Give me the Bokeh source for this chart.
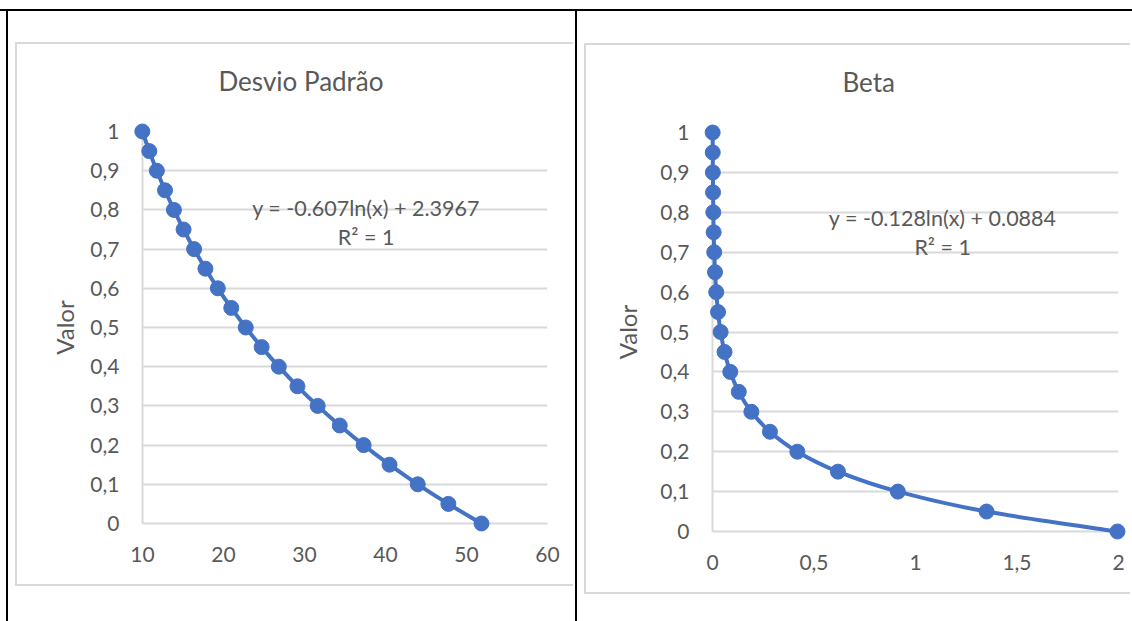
from bokeh.plotting import figure
from bokeh.models import Range1d, FixedTicker, Label, Spacer
from bokeh.layouts import row, column
from bokeh.embed import file_html
from bokeh.resources import INLINE

# ---------------- data ----------------
Y_VALUES = [1.00, 0.95, 0.90, 0.85, 0.80, 0.75, 0.70, 0.65, 0.60, 0.55, 0.50,
            0.45, 0.40, 0.35, 0.30, 0.25, 0.20, 0.15, 0.10, 0.05, 0.00]
DP_X = [9.98, 10.84, 11.77, 12.78, 13.88, 15.07, 16.37, 17.77, 19.30, 20.96, 22.75,
        24.71, 26.83, 29.13, 31.63, 34.35, 37.30, 40.50, 43.98, 47.76, 51.85]
BETA_X = [0.0008, 0.0012, 0.0018, 0.0026, 0.0039, 0.0057, 0.0084, 0.0124, 0.0184, 0.0272, 0.0401,
          0.0593, 0.0876, 0.1295, 0.1915, 0.283, 0.418, 0.618, 0.913, 1.350, 1.995]

Y_TICKS = [0, 0.1, 0.2, 0.3, 0.4, 0.5, 0.6, 0.7, 0.8, 0.9, 1]
Y_TICK_LABELS = ["0", "0,1", "0,2", "0,3", "0,4", "0,5", "0,6", "0,7", "0,8", "0,9", "1"]
DP_X_TICKS = [10, 20, 30, 40, 50, 60]
DP_X_TICK_LABELS = ["10", "20", "30", "40", "50", "60"]
BETA_X_TICKS = [0, 0.5, 1, 1.5, 2]
BETA_X_TICK_LABELS = ["0", "0,5", "1", "1,5", "2"]

TITLES = ["Desvio Padrão", "Beta"]
Y_LABEL = "Valor"
EQUATIONS = ["y = -0.607ln(x) + 2.3967", "y = -0.128ln(x) + 0.0884"]
R2_TEXT = "R² = 1"

BLUE = "#4472C4"
TXT = "#595959"
GRID = "#D9D9D9"
FONT = "Lato"


def smooth_segments(xs, ys):
    n = len(xs)
    d = dict(x0=[], y0=[], x1=[], y1=[], cx0=[], cy0=[], cx1=[], cy1=[])
    for i in range(n - 1):
        ip, inn = max(i - 1, 0), min(i + 2, n - 1)
        d["x0"].append(xs[i]); d["y0"].append(ys[i])
        d["x1"].append(xs[i + 1]); d["y1"].append(ys[i + 1])
        d["cx0"].append(xs[i] + (xs[i + 1] - xs[ip]) / 6.0)
        d["cy0"].append(ys[i] + (ys[i + 1] - ys[ip]) / 6.0)
        d["cx1"].append(xs[i + 1] - (xs[inn] - xs[i]) / 6.0)
        d["cy1"].append(ys[i + 1] - (ys[inn] - ys[i]) / 6.0)
    return d


def make_chart(xs, ys, xr, x_ticks, x_labels, title, eq, geo):
    p = figure(width=geo["w"], height=geo["h"],
               x_range=Range1d(*xr), y_range=Range1d(0, 1),
               output_backend="svg", toolbar_location=None,
               min_border_left=geo["bl"], min_border_right=geo["br"],
               min_border_top=geo["bt"], min_border_bottom=geo["bb"],
               background_fill_color="white", border_fill_color="white",
               outline_line_color=None)
    p.title.text = title
    p.title.align = "left"
    p.title.offset = geo["toff"]
    p.title.text_font = FONT
    p.title.text_font_size = "26px"
    p.title.text_font_style = "normal"
    p.title.text_color = TXT
    p.title.vertical_align = "bottom"
    p.title.standoff = 0
    p.title.padding = dict(left=0, right=0, top=0, bottom=35)

    p.xgrid.visible = False
    p.ygrid.ticker = FixedTicker(ticks=Y_TICKS)
    p.ygrid.grid_line_color = GRID
    p.ygrid.grid_line_width = 2

    xax = p.below[0]
    yax = p.left[0]
    for ax in (xax, yax):
        ax.axis_line_color = GRID
        ax.axis_line_width = 2
        ax.major_tick_line_color = None
        ax.minor_tick_line_color = None
        ax.major_tick_out = 0
        ax.major_tick_in = 0
        ax.minor_tick_out = 0
        ax.minor_tick_in = 0
        ax.major_label_text_font = FONT
        ax.major_label_text_font_size = "21px"
        ax.major_label_text_color = TXT

    xax.ticker = FixedTicker(ticks=x_ticks)
    xax.major_label_overrides = {t: l for t, l in zip(x_ticks, x_labels)}
    xax.major_label_standoff = geo["xls"]
    yax.ticker = FixedTicker(ticks=Y_TICKS)
    yax.major_label_overrides = {t: l for t, l in zip(Y_TICKS, Y_TICK_LABELS)}
    yax.major_label_standoff = 23
    yax.axis_label = Y_LABEL
    yax.axis_label_text_font = FONT
    yax.axis_label_text_font_size = "24px"
    yax.axis_label_text_font_style = "normal"
    yax.axis_label_text_color = TXT
    yax.axis_label_standoff = geo["als"]

    seg = smooth_segments(xs, ys)
    p.bezier(x0=seg["x0"], y0=seg["y0"], x1=seg["x1"], y1=seg["y1"],
             cx0=seg["cx0"], cy0=seg["cy0"], cx1=seg["cx1"], cy1=seg["cy1"],
             line_color=BLUE, line_width=4, level="overlay")
    p.scatter(xs, ys, marker="circle", size=15, fill_color=BLUE, line_color=BLUE,
              line_width=1, level="overlay")

    p.add_layout(Label(x=geo["ex"], y=geo["ey1"], text=eq, text_align="center",
                       text_baseline="middle", text_font=FONT, text_font_size="21.5px",
                       text_color=TXT))
    p.add_layout(Label(x=geo["ex"], y=geo["ey2"], text=R2_TEXT, text_align="center",
                       text_baseline="middle", text_font=FONT, text_font_size="21.5px",
                       text_color=TXT))
    return p


geo1 = dict(w=558, h=540, bl=125, br=28, bt=87, bb=61, xls=23, als=8, toff=76,
            ex=37.6, ey1=0.806, ey2=0.732)
geo2 = dict(w=546, h=547, bl=126, br=14, bt=87, bb=60, xls=23, als=15, toff=130,
            ex=1.134, ey1=0.786, ey2=0.712)

p1 = make_chart(DP_X, Y_VALUES, (10, 60), DP_X_TICKS, DP_X_TICK_LABELS, TITLES[0], EQUATIONS[0], geo1)
p2 = make_chart(BETA_X, Y_VALUES, (0, 2), BETA_X_TICKS, BETA_X_TICK_LABELS, TITLES[1], EQUATIONS[1], geo2)

frame_shadow = "-2px -2px 0 0 #D9D9D9, -2px 2px 0 0 #D9D9D9"
p1.margin = (33, 0, 0, 9)
p2.margin = (34, 0, 0, 9)
p1.styles = {"box-shadow": frame_shadow}
p2.styles = {"box-shadow": frame_shadow}

top_line = Spacer(width=1132, height=2, margin=(9, 0, 0, 0), styles={"background-color": "black"})
left_line = Spacer(width=2, height=610, margin=(0, 0, 0, 6), styles={"background-color": "black"})
mid_line = Spacer(width=2, height=610, margin=0, styles={"background-color": "black"})

layout = column(top_line, row(left_line, p1, mid_line, p2, spacing=0), spacing=0)

open("out.html", "w").write(file_html(layout, INLINE))
